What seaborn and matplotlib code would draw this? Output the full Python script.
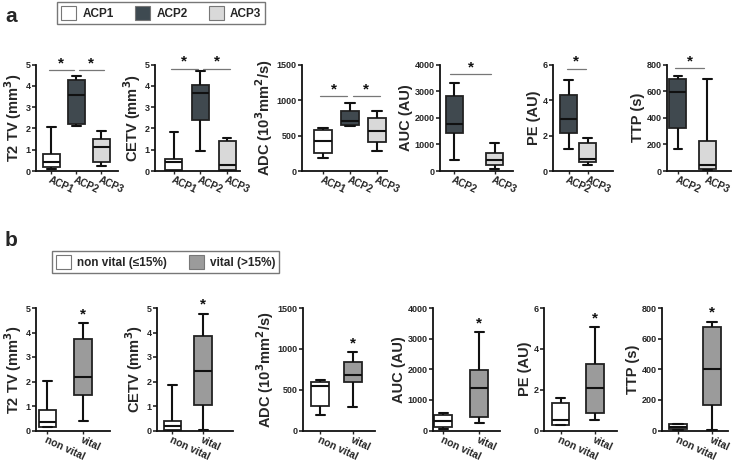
import numpy as np
import pandas as pd
import seaborn as sns
import matplotlib.pyplot as plt
from matplotlib.patches import Patch

# five-number summaries: min, q1, median, q3, max
acp_groups = ["ACP1", "ACP2", "ACP3"]
t2tv_acp = {"ACP1": [0.11, 0.19, 0.42, 0.78, 2.06],
            "ACP2": [2.09, 2.22, 3.56, 4.28, 4.45],
            "ACP3": [0.22, 0.42, 1.12, 1.52, 1.90]}
cetv_acp = {"ACP1": [0.0, 0.03, 0.40, 0.55, 1.82],
            "ACP2": [0.92, 2.40, 3.68, 4.05, 4.70],
            "ACP3": [0.0, 0.03, 0.28, 1.43, 1.55]}
adc_acp = {"ACP1": [190, 260, 420, 580, 600],
           "ACP2": [630, 645, 700, 840, 960],
           "ACP3": [280, 410, 560, 740, 840]}
auc_acp = {"ACP2": [400, 1420, 1780, 2800, 3300],
           "ACP3": [75, 220, 410, 690, 1070]}
pe_acp = {"ACP2": [1.23, 2.12, 2.94, 4.26, 5.10],
          "ACP3": [0.32, 0.51, 0.66, 1.59, 1.87]}
ttp_acp = {"ACP2": [162, 326, 593, 694, 717],
           "ACP3": [10, 18, 43, 225, 694]}

vit_groups = ["non vital", "vital"]
t2tv_vit = {"non vital": [0.14, 0.15, 0.36, 0.83, 2.01],
            "vital": [0.39, 1.46, 2.18, 3.73, 4.38]}
cetv_vit = {"non vital": [0.0, 0.04, 0.18, 0.40, 1.85],
            "vital": [0.03, 1.03, 2.42, 3.86, 4.77]}
adc_vit = {"non vital": [195, 295, 545, 590, 620],
           "vital": [282, 593, 682, 834, 956]}
auc_vit = {"non vital": [55, 98, 294, 490, 560],
           "vital": [240, 425, 1384, 1962, 3215]}
pe_vit = {"non vital": [0.25, 0.28, 0.49, 1.35, 1.60],
          "vital": [0.53, 0.86, 2.06, 3.24, 5.05]}
ttp_vit = {"non vital": [5, 10, 25, 40, 45],
           "vital": [4, 164, 400, 675, 711]}

ylabels = ["T2 TV (mm$^3$)", "CETV (mm$^3$)", "ADC (10$^3$mm$^2$/s)",
           "AUC (AU)", "PE (AU)", "TTP (s)"]
ymax = [5, 5, 1500, 4000, 6, 800]
ystep = [1, 1, 500, 1000, 2, 200]

# significance bars in panel a: (group from, group to, height)
sig_a = [[("ACP1", "ACP2", 4.72), ("ACP2", "ACP3", 4.72)],
         [("ACP1", "ACP2", 4.8), ("ACP2", "ACP3", 4.8)],
         [("ACP1", "ACP2", 1050), ("ACP2", "ACP3", 1050)],
         [("ACP2", "ACP3", 3630)],
         [("ACP2", "ACP3", 5.75)],
         [("ACP2", "ACP3", 770)]]

acp_colors = {"ACP1": "#ffffff", "ACP2": "#3e4a51", "ACP3": "#d9d9d9"}
vit_colors = {"non vital": "#ffffff", "vital": "#9b9b9b"}

sns.set_style("ticks")
plt.rcParams['font.family'] = ['Liberation Sans', 'DejaVu Sans']
plt.rcParams['font.weight'] = 'bold'
plt.rcParams['axes.labelweight'] = 'bold'

W, H = 732, 463
fig = plt.figure(figsize=(7.32, 4.63), dpi=100)


def px_axes(x0, x1, ybot, ytop):
    return fig.add_axes([x0 / W, 1 - ybot / H, (x1 - x0) / W, (ybot - ytop) / H])


def draw(ax, stats, groups, colors, k, xlim, width, xsize):
    rows = []
    for g in groups:
        if g in stats:
            for v in stats[g]:
                rows.append({"group": g, "value": v})
    df = pd.DataFrame(rows)
    order = [g for g in groups if g in stats]
    sns.boxplot(data=df, x="group", y="value", hue="group", order=order,
                hue_order=order, palette=colors, whis=(0, 100), width=width,
                linewidth=1.3, linecolor="#222222", showfliers=False,
                legend=False, ax=ax,
                medianprops=dict(color="#111111", linewidth=1.5),
                whiskerprops=dict(color="#111111", linewidth=1.5),
                capprops=dict(color="#111111", linewidth=1.5))
    ax.set_xlim(*xlim)
    ax.set_ylim(0, ymax[k])
    ax.set_yticks(np.arange(0, ymax[k] + ystep[k] / 2, ystep[k]))
    ax.set_xlabel("")
    ax.set_ylabel(ylabels[k], fontsize=10.5, fontweight='bold', labelpad=1)
    for s in ["top", "right"]:
        ax.spines[s].set_visible(False)
    for s in ["left", "bottom"]:
        ax.spines[s].set_linewidth(1.3)
        ax.spines[s].set_color("#111111")
    ax.tick_params(axis='y', labelsize=6.5, length=3, width=1.2, pad=1)
    ax.tick_params(axis='x', labelsize=xsize, length=2, width=1, pad=1)
    for lab in ax.get_yticklabels():
        lab.set_fontweight('bold')
    for lab in ax.get_xticklabels():
        lab.set_rotation(-25)
        lab.set_ha('left')
        lab.set_rotation_mode('anchor')
        lab.set_fontweight('bold')
    return order


# layout in pixels: x0, x1, xlim, box width
layout_a = [(36, 118, (-0.62, 2.67), 0.68),
            (155, 240, (-0.70, 2.48), 0.63),
            (302, 387, (-0.78, 2.37), 0.70),
            (440, 513, (-0.36, 1.46), 0.42),
            (553, 613, (-0.82, 2.33), 0.88),
            (667, 731, (-0.37, 1.80), 0.58)]
layout_b = [(36, 110, (-0.32, 1.75), 0.50),
            (157, 233, (-0.50, 1.97), 0.57),
            (303, 375, (-0.52, 1.67), 0.55),
            (433, 500, (-0.28, 1.58), 0.50),
            (544, 617, (-0.48, 1.64), 0.52),
            (662, 728, (-0.47, 1.47), 0.55)]

data_a = [t2tv_acp, cetv_acp, adc_acp, auc_acp, pe_acp, ttp_acp]
data_b = [t2tv_vit, cetv_vit, adc_vit, auc_vit, pe_vit, ttp_vit]

for k, (x0, x1, xlim, w) in enumerate(layout_a):
    ax = px_axes(x0, x1, 171, 64.5)
    order = draw(ax, data_a[k], acp_groups, acp_colors, k, xlim, w, 7.2)
    for j, (g1, g2, yv) in enumerate(sig_a[k]):
        i1, i2 = order.index(g1), order.index(g2)
        xa = i1 - 0.1 + 0.2 * j
        xb = i2 - 0.1 + 0.2 * j
        ax.plot([xa, xb], [yv, yv], color="#777777", lw=0.9, clip_on=False)
        ax.text((xa + xb) / 2, yv, "*", ha='center', va='bottom',
                fontsize=11, fontweight='bold', color="#111111")

for k, (x0, x1, xlim, w) in enumerate(layout_b):
    ax = px_axes(x0, x1, 430.5, 308)
    order = draw(ax, data_b[k], vit_groups, vit_colors, k, xlim, w, 7.5)
    top = max(data_b[k]["vital"])
    ax.text(1, top + ymax[k] * 0.015, "*", ha='center', va='bottom',
            fontsize=11, fontweight='bold', color="#111111")

fig.text(5 / W, 1 - 16 / H, "a", fontsize=15, fontweight='bold', va='center')
fig.text(5 / W, 1 - 240 / H, "b", fontsize=15, fontweight='bold', va='center')

leg_kw = dict(loc='upper left', frameon=True, fancybox=False, edgecolor="#555555",
              prop=dict(size=8.5, weight='bold'), handlelength=1.3,
              handleheight=1.4, columnspacing=1.8, borderpad=0.35,
              handletextpad=0.5, borderaxespad=0)
h_a = [Patch(facecolor=acp_colors[g], edgecolor="#777777", lw=0.8) for g in acp_groups]
leg_a = fig.legend(h_a, acp_groups, bbox_to_anchor=(57 / W, 1 - 2 / H), ncol=3, **leg_kw)
leg_a.get_frame().set_linewidth(1.0)
h_b = [Patch(facecolor=vit_colors[g], edgecolor="#777777", lw=0.8) for g in vit_groups]
leg_b = fig.legend(h_b, ["non vital (\u226415%)", "vital (>15%)"],
                   bbox_to_anchor=(52 / W, 1 - 251 / H), ncol=2, **leg_kw)
leg_b.get_frame().set_linewidth(1.0)

fig.savefig("out.png", dpi=100)
